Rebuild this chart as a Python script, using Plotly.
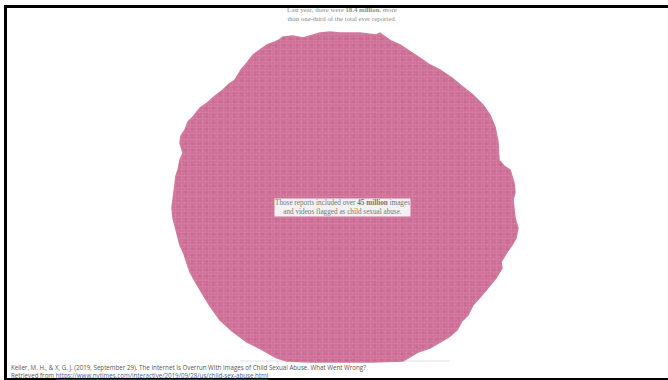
import plotly.graph_objects as go

# Outline of the mass of dots (pixel scale of the slide)
outline_x = [340, 330, 320, 311, 303, 293, 283, 279, 275, 267, 260, 253, 247, 241, 235, 229, 223, 215, 207,
             200, 193, 188, 185, 181, 180, 183, 180, 178, 176, 175, 173, 172, 173, 175, 177, 180, 184, 187,
             190, 196, 203, 210, 220, 232, 247, 261, 277, 287, 310, 340, 372, 403, 411, 418, 430, 440, 449,
             457, 462, 468, 473, 482, 490, 496, 502, 501, 507, 512, 516, 518, 515, 514, 513, 515, 514, 510,
             504, 499, 498, 495, 490, 483, 473, 463, 452, 440, 430, 420, 409, 400, 391, 380, 376, 360, 340]
outline_y = [33, 32, 33, 36, 38, 36, 37, 40, 42, 45, 50, 55, 63, 70, 80, 84, 90, 96, 103,
             108, 117, 122, 130, 136, 143, 153, 160, 170, 176, 183, 198, 208, 218, 226, 235, 245, 254, 262,
             272, 283, 295, 306, 320, 331, 342, 349, 358, 361, 362, 362, 362, 361, 356, 352, 348, 342, 337,
             330, 321, 315, 305, 295, 285, 278, 268, 262, 252, 245, 238, 228, 218, 208, 200, 192, 183, 170,
             166, 160, 142, 127, 115, 105, 95, 87, 78, 70, 65, 58, 51, 45, 41, 33, 35, 33, 33]

top_text = "Last year, there were <b>18.4 million</b>, more<br>than one-third of the total ever reported."
middle_text = "Those reports included over <b>45 million</b> images<br>and videos flagged as child sexual abuse."
citation = "Keller, M. H., &amp; X, G. J. (2019, September 29). The Internet Is Overrun With Images of Child Sexual Abuse. What Went Wrong?"
retrieved = 'Retrieved from <span style="color:#3a5fa8"><u>https://www.nytimes.com/interactive/2019/09/28/us/child-sex-abuse.html</u></span>'

fig = go.Figure()
fig.add_trace(go.Scatter(x=outline_x, y=outline_y, mode="lines", fill="toself",
                         line=dict(color="#d27c9f", width=1.5),
                         fillcolor="#d27c9f",
                         fillpattern=dict(shape=".", size=3, solidity=0.4,
                                          bgcolor="#cd6f97", fgcolor="#e296b5"),
                         hoverinfo="skip", showlegend=False))
fig.add_trace(go.Scatter(x=outline_x, y=outline_y, mode="none", fill="toself",
                         fillpattern=dict(shape=".", size=7, solidity=0.3, fillmode="overlay",
                                          fgcolor="rgba(186,88,130,0.55)", bgcolor="rgba(0,0,0,0)"),
                         hoverinfo="skip", showlegend=False))

fig.add_annotation(x=342, y=13.5, text=top_text, showarrow=False, xanchor="center", yanchor="middle",
                   font=dict(family="Liberation Serif", size=6.8, color="#8a8a8a"))
fig.add_annotation(x=342, y=207.5, text=middle_text, showarrow=False, xanchor="center", yanchor="middle",
                   bgcolor="#f4f1f2", borderpad=0,
                   font=dict(family="Liberation Serif", size=7.2, color="#777777"))
fig.add_annotation(x=9, y=371, text=citation + "<br>" + retrieved, showarrow=False, xanchor="left",
                   align="left", yanchor="middle",
                   font=dict(family="Open Sans", size=6.2, color="#555555"))

# Slide frame: top bar, left bar, bottom bar
fig.add_shape(type="rect", xref="x", yref="y", x0=4, x1=668, y0=5, y1=8, fillcolor="#000", line_width=0)
fig.add_shape(type="rect", xref="x", yref="y", x0=4, x1=7, y0=5, y1=380, fillcolor="#000", line_width=0)
fig.add_shape(type="rect", xref="x", yref="y", x0=4, x1=668, y0=378, y1=380, fillcolor="#000", line_width=0)
fig.add_shape(type="line", xref="x", yref="y", x0=240, x1=450, y0=361, y1=361,
              line=dict(color="#dde3df", width=1), layer="below")

fig.update_layout(width=668, height=380, margin=dict(l=0, r=0, t=0, b=0),
                  paper_bgcolor="white", plot_bgcolor="white", showlegend=False,
                  xaxis=dict(visible=False, range=[0, 668], fixedrange=True),
                  yaxis=dict(visible=False, range=[380, 0], fixedrange=True))
fig.write_html("out.html", config={"displayModeBar": False},
               post_script="document.body.style.margin='0';document.body.style.overflow='hidden';")
